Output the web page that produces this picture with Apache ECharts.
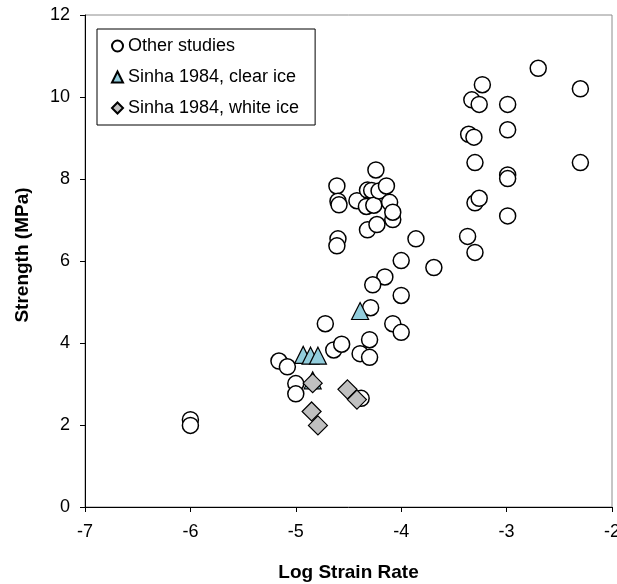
<!DOCTYPE html>
<html>
<head>
<meta charset="utf-8">
<title>Strength vs Log Strain Rate</title>
<script src="https://cdn.jsdelivr.net/npm/echarts@6/dist/echarts.min.js"></script>
<style>
  html, body { margin: 0; padding: 0; background: #fff; }
  #chart { width: 617px; height: 584px; }
</style>
</head>
<body>
<div id="chart"></div>
<script>
// Compressive strength (MPa) against log10 strain rate
const otherStudies = [
  [-6.00, 2.13], [-6.00, 1.99], [-5.16, 3.56], [-5.08, 3.42], [-5.00, 3.01],
  [-5.00, 2.76], [-4.72, 4.47], [-4.64, 3.83], [-4.565, 3.97], [-4.61, 7.83],
  [-4.60, 7.46], [-4.59, 7.37], [-4.60, 6.54], [-4.61, 6.37], [-4.42, 7.47],
  [-4.33, 7.33], [-4.32, 7.73], [-4.28, 7.72], [-4.26, 7.36], [-4.24, 8.22],
  [-4.21, 7.71], [-4.14, 7.83], [-4.11, 7.43], [-4.08, 7.01], [-4.08, 7.19],
  [-4.32, 6.76], [-4.23, 6.89], [-3.86, 6.54], [-4.00, 6.01], [-3.69, 5.84],
  [-4.155, 5.61], [-4.27, 5.42], [-4.00, 5.16], [-4.29, 4.86], [-4.08, 4.47],
  [-4.00, 4.26], [-4.30, 4.08], [-4.39, 3.74], [-4.30, 3.65], [-4.38, 2.65],
  [-3.37, 6.60], [-3.30, 6.21], [-3.30, 7.42], [-3.26, 7.53], [-3.30, 8.40],
  [-3.36, 9.09], [-3.31, 9.02], [-3.33, 9.93], [-3.26, 9.82], [-3.23, 10.30],
  [-2.99, 9.82], [-2.99, 9.20], [-2.99, 8.10], [-2.99, 8.01], [-2.99, 7.10],
  [-2.70, 10.70], [-2.30, 10.20], [-2.30, 8.40]
];
const sinhaClear = [
  [-4.39, 4.78], [-4.93, 3.71], [-4.86, 3.69], [-4.79, 3.69], [-4.84, 3.09]
];
const sinhaWhite = [
  [-4.84, 3.02], [-4.51, 2.87], [-4.42, 2.62], [-4.85, 2.33], [-4.79, 1.99]
];
const seriesNames = ['Other studies', 'Sinha 1984, clear ice', 'Sinha 1984, white ice'];
const xTicks = { min: -7, max: -2, interval: 1 };
const yTicks = { min: 0, max: 12, interval: 2 };

const FONT = '"Liberation Sans", Arial, sans-serif';
const chart = echarts.init(document.getElementById('chart'), null, { renderer: 'canvas' });

const axisCommon = {
  axisLine: { show: true, onZero: false, lineStyle: { color: '#000', width: 1 } },
  axisTick: { show: true, inside: false, length: 5, lineStyle: { color: '#000', width: 1 } },
  splitLine: { show: false },
  nameLocation: 'middle',
  nameTextStyle: { fontFamily: FONT, fontSize: 19, fontWeight: 'bold', color: '#000' },
  axisLabel: { fontFamily: FONT, fontSize: 18, color: '#000' }
};

chart.setOption({
  animation: false,
  backgroundColor: '#fff',
  grid: {
    left: 85, right: 5, top: 15, bottom: 77,
    outerBoundsMode: 'none',
    containLabel: false,
    show: true, borderColor: '#8c8c8c', borderWidth: 1, backgroundColor: '#fff'
  },
  legend: {
    orient: 'vertical',
    left: 97, top: 29,
    padding: [7, 16, 7, 14],
    itemWidth: 11, itemHeight: 11,
    itemGap: 11,
    itemTextGap: 4,
    borderColor: '#000', borderWidth: 1, backgroundColor: '#fff',
    textStyle: { fontFamily: FONT, fontSize: 18, color: '#000', lineHeight: 20 },
    data: seriesNames
  },
  xAxis: Object.assign({}, axisCommon, {
    type: 'value',
    min: xTicks.min, max: xTicks.max, interval: xTicks.interval,
    name: 'Log Strain Rate',
    nameGap: 56,
    axisLabel: Object.assign({}, axisCommon.axisLabel, { margin: 16 })
  }),
  yAxis: Object.assign({}, axisCommon, {
    type: 'value',
    min: yTicks.min, max: yTicks.max, interval: yTicks.interval,
    name: 'Strength (MPa)',
    nameGap: 53,
    nameTextStyle: Object.assign({}, axisCommon.nameTextStyle, { padding: [0, 0, 0, 12] }),
    axisLabel: Object.assign({}, axisCommon.axisLabel, { margin: 15 })
  }),
  series: [
    {
      name: seriesNames[0], type: 'scatter', data: otherStudies,
      symbol: 'circle', symbolSize: 16,
      itemStyle: { color: '#fff', borderColor: '#000', borderWidth: 1.5, opacity: 1 }
    },
    {
      name: seriesNames[1], type: 'scatter', data: sinhaClear,
      symbol: 'triangle', symbolSize: 17,
      itemStyle: { color: '#92CDDC', borderColor: '#000', borderWidth: 1.2, opacity: 1 }
    },
    {
      name: seriesNames[2], type: 'scatter', data: sinhaWhite,
      symbol: 'diamond', symbolSize: 19,
      itemStyle: { color: '#C0C0C0', borderColor: '#000', borderWidth: 1.2, opacity: 1 }
    }
  ]
});
</script>
</body>
</html>
